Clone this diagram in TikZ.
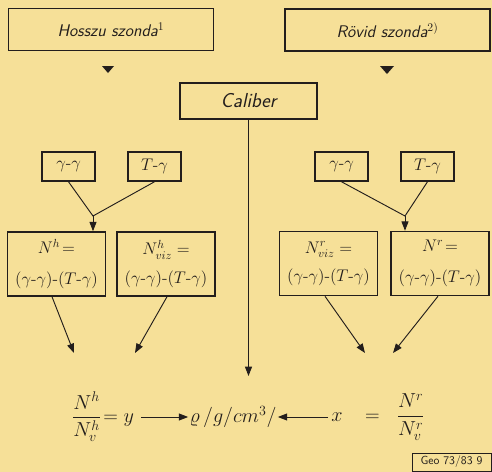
\documentclass[tikz,border=0pt]{standalone}
\usepackage{amsmath}
\usetikzlibrary{positioning, arrows.meta}
\definecolor{paper}{RGB}{246,224,152}
\definecolor{ink}{RGB}{35,30,28}

\begin{document}
\begin{tikzpicture}[x=0.03cm, y=-0.03cm, font=\sffamily\itshape, color=ink,
        probe/.style={draw, line width=1.3pt, minimum width=6.15cm, minimum height=1.26cm, font=\sffamily\itshape\Large},
        ray/.style={draw, line width=1.3pt, minimum width=1.59cm, minimum height=0.87cm, inner sep=1pt, font=\Large},
        count/.style={draw, line width=1.3pt, minimum width=2.95cm, minimum height=1.92cm, align=center, inner sep=1pt, font=\Large},
        tip/.style={-{Triangle[length=8pt, width=6pt]}, thick}]
        \fill[paper] (0,0) rectangle (492,472);
        \useasboundingbox (0,0) rectangle (492,472);
        % probes
        \node[probe] (long) at (111,29.5) {Hosszu szonda$^{1}$};
        \node[probe] (short) at (387.5,30) {R\"ovid szonda$^{2)}$};
        \fill (102,66) -- (114,66) -- (108,73) -- cycle;
        \fill (380,66) -- (394,66) -- (387,74) -- cycle;
        \node[draw, line width=1.3pt, minimum width=4.11cm, minimum height=1.08cm, font=\sffamily\itshape\LARGE] (cal) at (248.5,101) {Caliber};
        % gamma-gamma and T-gamma
        \node[ray] (gg_h) at (68.5,166.5) {$\gamma$-$\gamma$};
        \node[ray] (tg_h) at (154.5,166.5) {$T$-$\gamma$};
        \node[ray] (gg_r) at (341.5,166.5) {$\gamma$-$\gamma$};
        \node[ray] (tg_r) at (427.5,166.5) {$T$-$\gamma$};
        \node[count] (N_h) at (56.5,264) {$N^{h}\!=$\\[8pt]$(\gamma$-$\gamma)$-$(T$-$\gamma)$};
        \node[count] (Nviz_h) at (166,264) {$N^{h}_{viz}=$\\[6pt]$(\gamma$-$\gamma)$-$(T$-$\gamma)$};
        \node[count] (Nviz_r) at (328.5,263.5) {$N^{r}_{viz}=$\\[6pt]$(\gamma$-$\gamma)$-$(T$-$\gamma)$};
        \node[count] (N_r) at (440,263.5) {$N^{r}\!=$\\[8pt]$(\gamma$-$\gamma)$-$(T$-$\gamma)$};
        \coordinate (j_h) at (93,216);
        \coordinate (j_r) at (405,216);
        \draw[thick] (gg_h.south) -- (j_h) -- (tg_h.south);
        \draw[thick] (gg_r.south) -- (j_r) -- (tg_r.south);
        \draw[tip] (j_h) -- (j_h |- N_h.north);
        \draw[tip] (j_r) -- (j_r |- N_r.north);
        % result
        \node[font=\LARGE, inner sep=1pt] (y) at (103,417) {$\dfrac{N^{h}}{N^{h}_{v}}\!= y$};
        \node[font=\LARGE, inner sep=1pt] (rho) at (233,417) {$\varrho\,/g/cm^{3}/$};
        \node[font=\LARGE, inner sep=1pt] (x) at (378,417) {$x\;\;\;=\;\;\dfrac{N^{r}}{N^{r}_{v}}$};
        \draw[tip] (y.east) ++(6,0) -- (rho.west);
        \draw[tip] (x.west) ++(-2,0) -- (rho.east);
        \coordinate (e1) at (74,353);
        \coordinate (e2) at (135,353);
        \coordinate (e3) at (365,353);
        \coordinate (e4) at (393,353);
        \coordinate (e5) at (248.5,376);
        \draw[tip] (N_h.south -| 52,0) -- (e1);
        \draw[tip] (Nviz_h.south -| 167,0) -- (e2);
        \draw[tip] (Nviz_r.south -| 325,0) -- (e3);
        \draw[tip] (N_r.south -| 438,0) -- (e4);
        \draw[tip] (cal.south) -- (e5);
        \node[draw, thin, font=\sffamily\upshape, minimum width=2.37cm, minimum height=0.54cm, inner sep=1pt] (ref) at (451.5,462) {Geo 73/83 9};
    \end{tikzpicture}
\end{document}
